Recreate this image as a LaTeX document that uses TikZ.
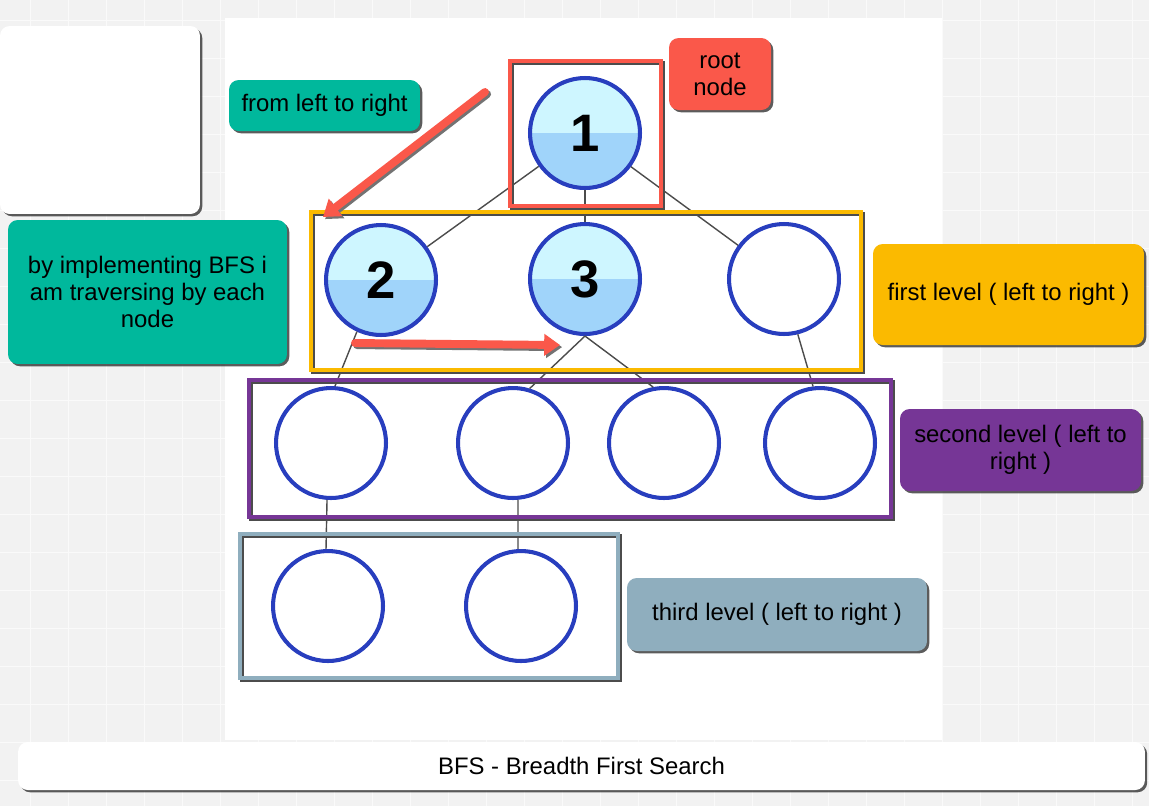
\documentclass[tikz,border=0pt]{standalone}
\usepackage{fontspec}
\setmainfont{Liberation Sans}
\usetikzlibrary{arrows.meta,shadows}
\definecolor{bfsteal}{RGB}{0,184,156}
\definecolor{bfsred}{RGB}{250,88,74}
\definecolor{bfsorange}{RGB}{251,186,0}
\definecolor{bfspurple}{RGB}{118,54,150}
\definecolor{bfsslate}{RGB}{143,174,190}
\definecolor{ringblue}{RGB}{40,62,190}
\definecolor{topcyan}{RGB}{206,246,255}
\definecolor{lowblue}{RGB}{160,212,250}
\begin{document}
\begin{tikzpicture}[x=0.02cm,y=-0.02cm,
    every node/.style={font=\fontsize{13.6}{15.3}\selectfont},
    vertex/.style={circle,draw=ringblue,line width=2.3pt,fill=white,
      minimum size=2.2cm,inner sep=0pt},
    visited/.style={vertex,fill=topcyan,
      path picture={\fill[lowblue] (path picture bounding box.west)
        rectangle (path picture bounding box.south east);},
      font=\fontsize{30}{30}\selectfont\bfseries},
    note/.style={rounded corners=5.5pt,inner sep=0pt,align=center,
      drop shadow={shadow xshift=1.3pt,shadow yshift=-1.3pt,opacity=.75,fill=black!85}},
    link/.style={draw=black!70,line width=.8pt},
    hint/.style={line width=4.5pt,line cap=round,-{Triangle[width=12pt,length=9pt]}}
  ]
  \useasboundingbox (0,0) rectangle (1149,806);
  \fill[black!5] (0,0) rectangle (1149,806);
  \foreach \g in {30,68,...,1149}
    \draw[white!60!black!5,line width=.5pt] (\g,0) -- (\g,806);
  \foreach \g in {20,58,...,806}
    \draw[white!60!black!5,line width=.5pt] (0,\g) -- (1149,\g);
  \fill[white] (225,18) rectangle (942,740);

  \node[visited] (v1) at (585,133) {1};
  \node[visited] (v2) at (381,280) {2};
  \node[visited] (v3) at (585,279) {3};
  \node[vertex] (v4) at (784,279) {};
  \node[vertex] (v5) at (331,443) {};
  \node[vertex] (v6) at (513,443) {};
  \node[vertex] (v7) at (664,443) {};
  \node[vertex] (v8) at (820,443) {};
  \node[vertex] (v9) at (328,606) {};
  \node[vertex] (v10) at (521,606) {};
  \begin{scope}[link]
    \draw (v1) to (v2);
    \draw (v1) to (v3);
    \draw (v1) to (v4);
    \draw (v2.245) to (v5.86);
    \draw (v3.south) to (v6.73);
    \draw (v3.south) to (v7.101);
    \draw (v4.284) to (v8.97);
    \draw (v5.266) to (v9.92);
    \draw (v6.275) to (v10.93);
  \end{scope}

  \foreach \xa/\ya/\xb/\yb/\c/\w in {510/61/661/206/bfsred/2pt,
      311/212/861/370/bfsorange/2.3pt,
      249/380/891/517/bfspurple/2.8pt,
      240/534/618/678/bfsslate/2.3pt} {
    \draw[black!70,line width=\w] (\xa+2,\ya+2) rectangle (\xb+2,\yb+2);
    \draw[\c,line width=\w] (\xa,\ya) rectangle (\xb,\yb);
  }

  \node[note,fill=white,minimum width=4cm,minimum height=3.76cm] (blank) at (100,120) {};
  \node[note,fill=bfsteal,minimum width=3.82cm,minimum height=1.02cm] (fromlr) at (324.5,105.5) {from left to right};
  \node[note,fill=bfsteal,minimum width=5.58cm,minimum height=2.88cm] (howto) at (147.5,292)
    {by implementing BFS i\\am traversing by each\\node};
  \node[note,fill=bfsred,minimum width=2.04cm,minimum height=1.44cm] (root) at (720,74) {root\\node};
  \node[note,fill=bfsorange,minimum width=5.42cm,minimum height=2.02cm] (first) at (1008.5,294.5)
    {first level ( left to right )};
  \node[note,fill=bfspurple,minimum width=4.82cm,minimum height=1.64cm] (second) at (1020.5,450)
    {second level ( left to\\right )};
  \node[note,fill=bfsslate,minimum width=6cm,minimum height=1.46cm] (third) at (777,614.5)
    {third level ( left to right )};
  \node[note,fill=white,minimum width=22.54cm,minimum height=.96cm] (title) at (581.5,766)
    {BFS - Breadth First Search};

  \coordinate (h1s) at (485,92);
  \coordinate (h1e) at (323,217);
  \coordinate (h2s) at (355,343);
  \coordinate (h2e) at (560,345);
  \begin{scope}[transform canvas={shift={(1.2pt,-1.2pt)}}]
    \draw[hint,black!55] (h1s) to (h1e);
    \draw[hint,black!55] (h2s) to (h2e);
  \end{scope}
  \draw[hint,bfsred] (h1s) to (h1e);
  \draw[hint,bfsred] (h2s) to (h2e);
\end{tikzpicture}
\end{document}
